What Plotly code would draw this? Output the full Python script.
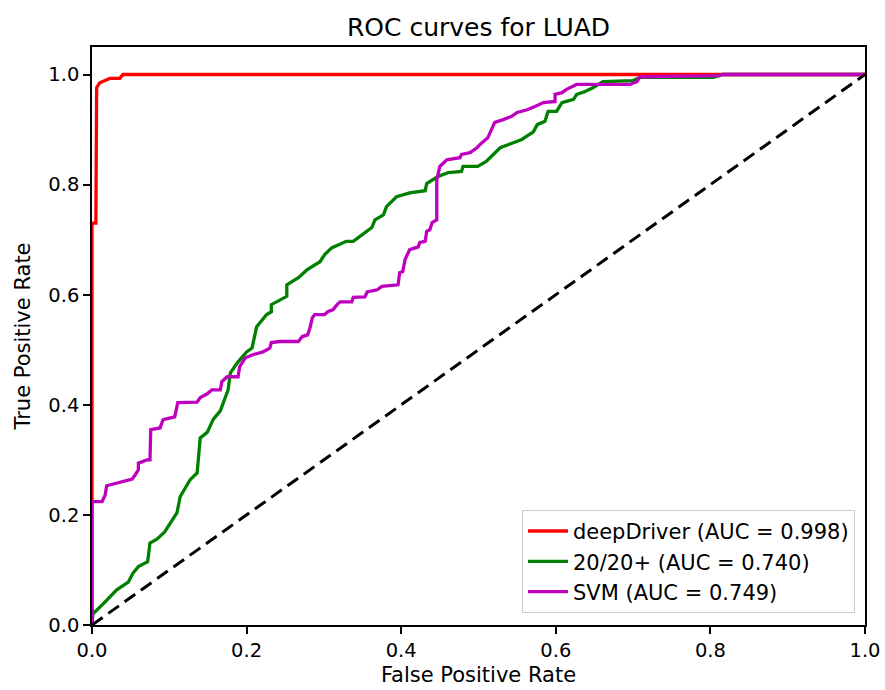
import plotly.graph_objects as go

# deepDriver ROC
dd_fpr = [0.0, 0.0, 0.001, 0.005, 0.005, 0.006, 0.010, 0.023, 0.036, 0.040, 1.0]
dd_tpr = [0.0, 0.73, 0.73, 0.73, 0.873, 0.976, 0.985, 0.993, 0.993, 1.0, 1.0]

# 20/20+ ROC
g_fpr = [0.0, 0.001, 0.017, 0.032, 0.047, 0.053, 0.060, 0.072, 0.075, 0.084, 0.094, 0.110, 0.114,
         0.127, 0.136, 0.140, 0.149, 0.157, 0.166, 0.176, 0.179, 0.189, 0.200, 0.207, 0.213, 0.226,
         0.232, 0.232, 0.252, 0.252, 0.267, 0.278, 0.295, 0.301, 0.310, 0.329, 0.338, 0.347, 0.362,
         0.366, 0.377, 0.381, 0.394, 0.411, 0.431, 0.433, 0.448, 0.461, 0.478, 0.480, 0.499, 0.510,
         0.528, 0.556, 0.571, 0.576, 0.586, 0.590, 0.601, 0.608, 0.623, 0.627, 0.638, 0.648, 0.661,
         0.700, 0.709, 0.804, 0.816, 1.0]
g_tpr = [0.0, 0.020, 0.042, 0.064, 0.078, 0.094, 0.106, 0.115, 0.149, 0.156, 0.169, 0.204, 0.233,
         0.264, 0.276, 0.340, 0.350, 0.374, 0.389, 0.427, 0.458, 0.478, 0.496, 0.503, 0.542, 0.564,
         0.569, 0.582, 0.597, 0.618, 0.631, 0.645, 0.660, 0.673, 0.685, 0.697, 0.697, 0.706, 0.722,
         0.736, 0.745, 0.760, 0.778, 0.785, 0.789, 0.802, 0.815, 0.822, 0.824, 0.833, 0.833, 0.842,
         0.867, 0.882, 0.896, 0.909, 0.915, 0.933, 0.933, 0.949, 0.955, 0.964, 0.969, 0.976, 0.987,
         0.989, 0.995, 0.995, 1.0, 1.0]

# SVM ROC
s_fpr = [0.0, 0.0, 0.013, 0.017, 0.019, 0.032, 0.040, 0.052, 0.056, 0.060, 0.060, 0.071, 0.075,
         0.076, 0.088, 0.092, 0.107, 0.111, 0.136, 0.140, 0.149, 0.155, 0.166, 0.168, 0.175, 0.189,
         0.191, 0.198, 0.208, 0.221, 0.230, 0.232, 0.243, 0.267, 0.272, 0.279, 0.282, 0.285, 0.288,
         0.301, 0.305, 0.312, 0.317, 0.321, 0.336, 0.338, 0.353, 0.356, 0.369, 0.375, 0.396, 0.398,
         0.402, 0.405, 0.411, 0.422, 0.424, 0.431, 0.433, 0.437, 0.440, 0.446, 0.446, 0.450, 0.459,
         0.476, 0.478, 0.489, 0.498, 0.502, 0.512, 0.517, 0.521, 0.532, 0.543, 0.550, 0.563, 0.573,
         0.584, 0.599, 0.599, 0.608, 0.614, 0.627, 0.696, 0.705, 0.709, 0.812, 0.816, 1.0]
s_tpr = [0.0, 0.224, 0.224, 0.236, 0.253, 0.258, 0.260, 0.265, 0.273, 0.282, 0.294, 0.300, 0.300,
         0.355, 0.358, 0.373, 0.378, 0.404, 0.405, 0.413, 0.420, 0.427, 0.427, 0.442, 0.451, 0.451,
         0.469, 0.485, 0.491, 0.496, 0.503, 0.513, 0.515, 0.515, 0.524, 0.527, 0.540, 0.558, 0.564,
         0.564, 0.569, 0.573, 0.582, 0.587, 0.587, 0.595, 0.596, 0.605, 0.609, 0.615, 0.618, 0.640,
         0.642, 0.664, 0.682, 0.687, 0.695, 0.697, 0.715, 0.718, 0.731, 0.736, 0.809, 0.833, 0.845,
         0.849, 0.855, 0.858, 0.867, 0.873, 0.885, 0.900, 0.913, 0.918, 0.924, 0.931, 0.936, 0.942,
         0.949, 0.951, 0.964, 0.967, 0.973, 0.982, 0.982, 0.987, 0.996, 0.998, 1.0, 1.0]

chance = [0.0, 1.0]
tick_vals = [0.0, 0.2, 0.4, 0.6, 0.8, 1.0]
tick_text = ["0.0", "0.2", "0.4", "0.6", "0.8", "1.0"]

names = ["deepDriver (AUC = 0.998)", "20/20+ (AUC = 0.740)", "SVM (AUC = 0.749)"]
colors = ["#ff0000", "#008000", "#bf00bf"]

fig = go.Figure()
for xs, ys, nm, c in zip([dd_fpr, g_fpr, s_fpr], [dd_tpr, g_tpr, s_tpr], names, colors):
    fig.add_trace(go.Scatter(x=xs, y=ys, mode="lines", name=nm,
                             line=dict(color=c, width=3.3)))
fig.add_trace(go.Scatter(x=chance, y=chance, mode="lines", showlegend=False,
                         line=dict(color="black", width=3, dash="13px,7px")))

axis_common = dict(showline=True, linecolor="black", linewidth=1.6, mirror=True,
                   ticks="outside", ticklen=7, tickwidth=1.6, tickcolor="black",
                   showgrid=False, zeroline=False, tickvals=tick_vals, ticktext=tick_text,
                   tickfont=dict(size=19.5, color="black"), automargin=False)

fig.update_layout(
    width=885, height=690,
    paper_bgcolor="white", plot_bgcolor="white",
    margin=dict(l=92, r=20, t=47, b=65),
    font=dict(family="DejaVu Sans", color="black"),
    title=dict(text="ROC curves for LUAD", x=0.5, xref="paper", xanchor="center",
               y=1 - 27 / 690, yanchor="middle", font=dict(size=25, color="black")),
    xaxis=dict(range=[0, 1], title=dict(text="False Positive Rate", font=dict(size=21), standoff=6),
               **axis_common),
    yaxis=dict(range=[0, 1.05], title=dict(text="True Positive Rate", font=dict(size=21), standoff=12),
               **axis_common),
    legend=dict(x=0.987, y=0.021, xanchor="right", yanchor="bottom",
                bgcolor="rgba(255,255,255,0.8)", bordercolor="#cccccc", borderwidth=1,
                font=dict(size=21, color="black"), tracegroupgap=0, itemwidth=40),
)

fig.write_html("out.html")
